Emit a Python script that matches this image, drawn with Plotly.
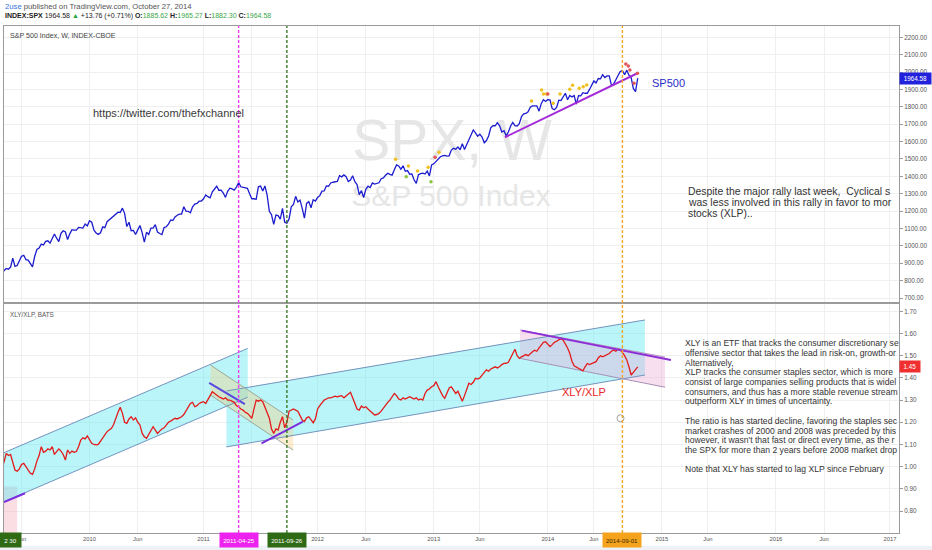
import pandas as pd
import plotly.graph_objects as go

# ---------------- data ----------------
spx_2009 = [843, 857, 870, 866, 878, 929, 882, 887, 919, 940, 946, 921, 918, 896, 879, 940, 979, 987,
            1010, 1005, 1026, 1029, 1016, 1042, 1068, 1044, 1025, 1072, 1087, 1080, 1036, 1069, 1093,
            1091, 1091, 1106, 1106, 1102, 1126, 1115]
spx_2010 = [1145, 1136, 1091, 1074, 1066, 1075, 1109, 1105, 1139, 1150, 1160, 1167, 1178, 1194, 1192,
            1217, 1187, 1111, 1136, 1087, 1089, 1065, 1092, 1117, 1076, 1022, 1078, 1065, 1102, 1102,
            1122, 1079, 1071, 1065, 1105, 1110, 1125, 1149, 1146, 1166, 1176, 1183, 1183, 1225, 1200,
            1199, 1190, 1225, 1240, 1244, 1257, 1258]
spx_2011 = [1271, 1293, 1283, 1276, 1311, 1329, 1343, 1320, 1321, 1304, 1279, 1314, 1332, 1328, 1320,
            1338, 1364, 1340, 1338, 1333, 1331, 1300, 1271, 1271, 1268, 1340, 1344, 1316, 1345, 1292,
            1199, 1179, 1124, 1177, 1174, 1154, 1216, 1136, 1131, 1155, 1225, 1238, 1285, 1253, 1263,
            1216, 1159, 1244, 1255, 1219, 1265, 1258]
spx_2012 = [1278, 1289, 1315, 1316, 1345, 1343, 1362, 1366, 1370, 1371, 1404, 1397, 1408, 1398, 1370,
            1379, 1403, 1369, 1353, 1295, 1318, 1278, 1325, 1343, 1335, 1362, 1355, 1357, 1363, 1386,
            1391, 1406, 1418, 1411, 1407, 1438, 1466, 1460, 1441, 1461, 1429, 1433, 1412, 1414, 1380,
            1360, 1409, 1416, 1418, 1413, 1430, 1402, 1466]
spx_2013 = [1472, 1486, 1503, 1513, 1518, 1520, 1516, 1518, 1551, 1561, 1556, 1569, 1553, 1588, 1555,
            1582, 1614, 1633, 1667, 1650, 1631, 1643, 1626, 1593, 1606, 1632, 1680, 1692, 1691, 1709,
            1691, 1655, 1663, 1633, 1655, 1688, 1710, 1692, 1690, 1703, 1744, 1760, 1762, 1771, 1798,
            1805, 1806, 1805, 1775, 1818, 1841, 1831]
spx_2014 = [1842, 1839, 1790, 1783, 1797, 1838, 1836, 1859, 1878, 1841, 1866, 1857, 1865, 1816, 1864,
            1863, 1881, 1878, 1878, 1900, 1924, 1949, 1937, 1963, 1961, 1985, 1968, 1978, 1978, 1925,
            1931, 1955, 1988, 2003, 2008, 1985, 2011, 1982, 1968, 1906, 1887, 1964.58]
spx = spx_2009 + spx_2010 + spx_2011 + spx_2012 + spx_2013 + spx_2014

xly_xlp = [
    1.00, 1.02, 1.06, 1.05, 1.055, 1.02, 0.985, 0.98, 0.99, 1.01,
    1.015, 1.00, 0.985, 0.97, 0.965, 0.99, 1.025, 1.05, 1.09, 1.065,
    1.07, 1.08, 1.075, 1.09, 1.055, 1.07, 1.08, 1.07, 1.055, 1.03,
    1.075, 1.06, 1.07, 1.065, 1.068, 1.09, 1.12, 1.13, 1.125, 1.138,
    1.12, 1.105, 1.10, 1.098, 1.10, 1.115, 1.13, 1.14, 1.158, 1.165,
    1.173, 1.19, 1.22, 1.245, 1.268, 1.24, 1.20, 1.195, 1.215, 1.225,
    1.21, 1.22, 1.20, 1.188, 1.15, 1.135, 1.128, 1.145, 1.165, 1.18,
    1.165, 1.15, 1.16, 1.17, 1.175, 1.19, 1.20, 1.205, 1.21, 1.218,
    1.215, 1.22, 1.225, 1.235, 1.25, 1.265, 1.285, 1.29, 1.27, 1.275,
    1.285, 1.29, 1.293, 1.285, 1.30, 1.32, 1.338, 1.33, 1.32, 1.315,
    1.31, 1.305, 1.31, 1.30, 1.30, 1.295, 1.29, 1.275, 1.27, 1.26,
    1.255, 1.245, 1.24, 1.23, 1.218, 1.26, 1.30, 1.295, 1.30, 1.293,
    1.27, 1.245, 1.218, 1.17, 1.15, 1.17, 1.165, 1.20, 1.225, 1.175,
    1.20, 1.25, 1.255, 1.26, 1.255, 1.25, 1.23, 1.21, 1.203, 1.22,
    1.225, 1.21, 1.198, 1.215, 1.26, 1.275, 1.29, 1.30, 1.305, 1.31,
    1.31, 1.315, 1.318, 1.315, 1.318, 1.32, 1.31, 1.318, 1.33, 1.335,
    1.31, 1.28, 1.26, 1.255, 1.273, 1.265, 1.27, 1.26, 1.25, 1.24,
    1.233, 1.235, 1.24, 1.25, 1.265, 1.28, 1.29, 1.30, 1.315, 1.33,
    1.32, 1.305, 1.30, 1.31, 1.305, 1.31, 1.315, 1.31, 1.305, 1.31,
    1.30, 1.305, 1.30, 1.33, 1.345, 1.35, 1.36, 1.365, 1.383, 1.36,
    1.34, 1.32, 1.308, 1.33, 1.355, 1.36, 1.345, 1.33, 1.34, 1.315,
    1.295, 1.32, 1.35, 1.376, 1.37, 1.38, 1.398, 1.395, 1.40, 1.415,
    1.425, 1.436, 1.43, 1.44, 1.445, 1.45, 1.445, 1.45, 1.46, 1.465,
    1.466, 1.47, 1.49, 1.51, 1.529, 1.50, 1.488, 1.495, 1.50, 1.505,
    1.50, 1.51, 1.518, 1.525, 1.52, 1.535, 1.55, 1.56, 1.563, 1.55,
    1.541, 1.55, 1.56, 1.565, 1.57, 1.578, 1.57, 1.555, 1.535, 1.511,
    1.475, 1.455, 1.45, 1.445, 1.44, 1.432, 1.45, 1.465, 1.46, 1.465,
    1.47, 1.473, 1.49, 1.50, 1.495, 1.50, 1.505, 1.51, 1.52, 1.526,
    1.52, 1.529, 1.525, 1.515, 1.50, 1.481, 1.45, 1.413, 1.425, 1.44, 1.45,
]

dates = pd.date_range("2009-03-30", periods=len(spx), freq="W-MON")
ratio_dates = dates[:len(xly_xlp)]

# signal dots on SPX
yellow_dates = ["2012-09-07", "2012-10-18", "2012-11-16", "2012-12-20", "2013-01-24", "2013-11-15",
                "2013-12-17", "2013-12-23", "2014-01-02", "2014-01-23", "2014-02-14", "2014-03-17",
                "2014-03-26", "2014-04-16", "2014-04-29", "2014-05-10"]
yellow_vals = [1498, 1459, 1431, 1452, 1538, 1833, 1897, 1874, 1874, 1820, 1874, 1901, 1924, 1907, 1916, 1925]
red_dates = ["2013-01-11", "2014-01-06", "2014-09-12", "2014-09-20", "2014-09-25", "2014-10-08", "2014-10-19"]
red_vals = [1510, 1874, 2046, 2035, 2012, 1935, 1993]
green_dates = ["2012-10-11", "2012-12-29"]
green_vals = [1398, 1369]

# drawings
spx_trend_dates = ["2013-08-22", "2014-10-19"]
spx_trend_vals = [1625, 1993]

left_ch_dates = ["2009-04-06", "2011-05-24"]
left_ch_upper = [1.063, 1.533]
left_ch_lower = [0.842, 1.313]
mid_ch_dates = ["2011-03-17", "2014-11-12"]
mid_ch_upper = [1.341, 1.661]
mid_ch_lower = [1.089, 1.413]
desc_ch_dates = ["2011-01-25", "2011-10-16"]
desc_ch_upper = [1.458, 1.210]
desc_ch_lower = [1.323, 1.075]
top_ch_dates = ["2013-10-09", "2015-01-15"]
top_ch_upper = [1.616, 1.494]
top_ch_lower = [1.488, 1.358]
pink_box_dates = ["2009-03-30", "2009-05-18"]
pink_box_vals = [0.60, 0.91]

seg_a_dates, seg_a_vals = ["2011-01-21", "2011-05-15"], [1.378, 1.282]
seg_b_dates, seg_b_vals = ["2011-07-07", "2011-11-16"], [1.105, 1.203]
seg_c_dates, seg_c_vals = ["2009-04-06", "2009-06-12"], [0.840, 0.880]
seg_d_dates, seg_d_vals = ["2013-10-15", "2015-02-03"], [1.613, 1.481]
cursor_dates, cursor_vals = ["2014-08-26"], [1.218]

vline_dates = ["2011-04-25", "2011-09-26", "2014-09-01"]
vline_colors = ["#f03cf0", "#3d7a26", "#f5a623"]
vline_label_bg = ["#ee22ee", "#2f6a14", "#f5a21c"]
vline_label_fg = ["white", "white", "#3a2a00"]

x_tickvals = ["2009-06-01", "2010-01-04", "2010-06-07", "2011-01-03", "2011-06-06", "2012-01-02",
              "2012-06-04", "2013-01-07", "2013-06-03", "2014-01-06", "2014-06-02", "2015-01-05",
              "2015-06-01", "2016-01-04", "2016-06-06", "2017-01-02"]
x_ticktext = ["Jun", "2010", "Jun", "2011", "", "2012", "Jun", "2013", "Jun", "2014", "Jun",
              "2015", "Jun", "2016", "Jun", "2017"]
spx_ticks = list(range(700, 2201, 100))
ratio_ticks = [0.8, 0.9, 1.0, 1.1, 1.2, 1.3, 1.4, 1.5, 1.6, 1.7]

x_range = ["2009-04-06", "2017-01-31"]
spx_range = [677, 2265]
ratio_range = [0.701, 1.733]

header_1 = "<span style='color:#3476dc'>2use</span> published on TradingView.com, October 27, 2014"
header_2 = ("<b>INDEX:SPX</b> 1964.58 <span style='color:#26a23a'>▲</span> +13.76 (+0.71%) "
            "<b>O:</b><span style='color:#3aa64a'>1885.62</span> <b>H:</b><span style='color:#3aa64a'>1965.27</span> "
            "<b>L:</b><span style='color:#3aa64a'>1882.30</span> <b>C:</b><span style='color:#3aa64a'>1964.58</span>")

top_note = ["Despite the major rally last week,\u00a0 Cyclical s",
            "was less involved in this rally in favor to mor",
            "stocks (XLP).."]
bottom_note = ["XLY is an ETF that tracks the consumer discretionary se",
               "offensive sector that takes the lead in risk-on, growth-or",
               "Alternatively,",
               "XLP tracks the consumer staples sector, which is more",
               "consist of large companies selling products that is widel",
               "consumers, and thus has a more stable revenue stream",
               "outperform XLY in times of uncertainty.",
               "",
               "The ratio is has started decline, favoring the staples sec",
               "market crashes of 2000 and 2008 was preceded by this",
               "however, it wasn't that fast or direct every time, as the r",
               "the SPX for more than 2 years before 2008 market drop",
               "",
               "Note that XLY has started to lag XLP since February"]

# ---------------- figure ----------------
FONT = "Liberation Sans, Arial, sans-serif"
L, R, T, B = 4, 899, 26, 533
W, H = 932, 550

def px(X):
    return (X - L) / (R - L)

def py(Y):
    return (B - Y) / (B - T)

x0 = pd.Timestamp(x_range[0]); x1 = pd.Timestamp(x_range[1])

def xfrac(f):
    return x0 + (x1 - x0) * f

def yfrac(rng, f):
    return rng[0] + (rng[1] - rng[0]) * f

fig = go.Figure()

# watermark (under everything in top pane)
fig.add_trace(go.Scatter(x=[xfrac(0.5006)], y=[yfrac(spx_range, 0.565)], mode="text", text=["SPX, W"],
                         textfont=dict(size=57, color="#e6e6e6", family=FONT), hoverinfo="skip",
                         xaxis="x", yaxis="y"))
fig.add_trace(go.Scatter(x=[xfrac(0.4994)], y=[yfrac(spx_range, 0.375)], mode="text", text=["S&P 500 Index"],
                         textfont=dict(size=30, color="#e6e6e6", family=FONT), hoverinfo="skip",
                         xaxis="x", yaxis="y"))

def poly(d, up, lo):
    return [d[0], d[1], d[1], d[0], d[0]], [up[0], up[1], lo[1], lo[0], up[0]]

def add_fill(d, up, lo, color):
    xs, ys = poly(d, up, lo)
    fig.add_trace(go.Scatter(x=xs, y=ys, mode="lines", fill="toself", fillcolor=color,
                             line=dict(width=0), hoverinfo="skip", xaxis="x2", yaxis="y2"))

def add_line(d, v, color, width=1, axis=("x2", "y2")):
    fig.add_trace(go.Scatter(x=d, y=v, mode="lines", line=dict(color=color, width=width),
                             hoverinfo="skip", xaxis=axis[0], yaxis=axis[1]))

# fills in the ratio pane
add_fill(pink_box_dates, [pink_box_vals[1]] * 2, [pink_box_vals[0]] * 2, "rgba(245,175,190,0.42)")
add_fill(left_ch_dates, left_ch_upper, left_ch_lower, "rgba(102,232,242,0.45)")
add_fill(mid_ch_dates, mid_ch_upper, mid_ch_lower, "rgba(102,232,242,0.45)")
add_fill(desc_ch_dates, desc_ch_upper, desc_ch_lower, "rgba(250,205,130,0.38)")
add_fill(top_ch_dates, top_ch_upper, top_ch_lower, "rgba(235,170,215,0.38)")

chan_col = "#7393bd"
for d, u, lo in [(left_ch_dates, left_ch_upper, left_ch_lower), (mid_ch_dates, mid_ch_upper, mid_ch_lower)]:
    add_line(d, u, chan_col, 1)
    add_line(d, lo, chan_col, 1)
add_line(desc_ch_dates, desc_ch_upper, "#9aa89a", 1)
add_line(desc_ch_dates, desc_ch_lower, "#9aa89a", 1)
add_line(top_ch_dates, top_ch_upper, "#b59ac0", 1)
add_line(top_ch_dates, top_ch_lower, "#a690b8", 1)

# price lines
fig.add_trace(go.Scatter(x=dates, y=spx, mode="lines", line=dict(color="#1c1ccf", width=1.3),
                         xaxis="x", yaxis="y", name="SPX"))
fig.add_trace(go.Scatter(x=ratio_dates, y=xly_xlp, mode="lines", line=dict(color="#e31b1b", width=1.3),
                         xaxis="x2", yaxis="y2", name="XLY/XLP"))

# trend lines
add_line(spx_trend_dates, spx_trend_vals, "#a32ad8", 2, ("x", "y"))
add_line(seg_a_dates, seg_a_vals, "#5a48e0", 2)
add_line(seg_b_dates, seg_b_vals, "#7a2ee0", 2)
add_line(seg_c_dates, seg_c_vals, "#7a2ee0", 2)
add_line(seg_d_dates, seg_d_vals, "#8e2fd6", 2)

# signal dots
for d, v, c in [(yellow_dates, yellow_vals, "#f2c01e"), (red_dates, red_vals, "#e0565a"),
                (green_dates, green_vals, "#8cc63f")]:
    fig.add_trace(go.Scatter(x=d, y=v, mode="markers", marker=dict(size=3.5, color=c),
                             hoverinfo="skip", xaxis="x", yaxis="y"))
fig.add_trace(go.Scatter(x=cursor_dates, y=cursor_vals, mode="markers",
                         marker=dict(size=7, color="white", line=dict(color="#a0a0a0", width=1)),
                         hoverinfo="skip", xaxis="x2", yaxis="y2"))

grid = "#efefef"
border = "#9b9b9b"
axis_common = dict(showgrid=True, gridcolor=grid, gridwidth=1, zeroline=False, showline=True,
                   linecolor=border, linewidth=1, mirror=True)
fig.update_layout(
    width=W, height=H, margin=dict(l=L, r=W - R, t=T, b=H - B),
    paper_bgcolor="white", plot_bgcolor="white", showlegend=False,
    font=dict(family=FONT, color="#444"),
    xaxis=dict(domain=[0, 1], anchor="y", type="date", range=x_range, tickvals=x_tickvals,
               showticklabels=False, ticks="", **axis_common),
    xaxis2=dict(domain=[0, 1], anchor="y2", type="date", range=x_range, matches="x",
                tickvals=x_tickvals, ticktext=x_ticktext, ticks="",
                tickfont=dict(size=5.8, color="#555", family=FONT), **axis_common),
    yaxis=dict(domain=[py(302), 1], anchor="x", side="right", range=spx_range, tickvals=spx_ticks,
               tickformat=".2f", ticks="outside", ticklen=3, tickcolor=border,
               tickfont=dict(size=6.3, color="#555", family=FONT), **axis_common),
    yaxis2=dict(domain=[0, py(304)], anchor="x2", side="right", range=ratio_range, tickvals=ratio_ticks,
                tickformat=".2f", ticks="outside", ticklen=3, tickcolor=border,
                tickfont=dict(size=6.3, color="#555", family=FONT), **axis_common),
)

# vertical dashed date lines and their axis labels
for d, c, bg, fg in zip(vline_dates, vline_colors, vline_label_bg, vline_label_fg):
    fig.add_shape(type="line", xref="x", yref="paper", x0=d, x1=d, y0=0, y1=1,
                  line=dict(color=c, width=1.4, dash="3px,2px"))
    fig.add_annotation(x=d, xref="x2", y=py(539.5), yref="paper", text=d, showarrow=False,
                       bgcolor=bg, font=dict(size=6.2, color=fg, family=FONT),
                       width=36, height=12, xanchor="center", yanchor="middle")
fig.add_annotation(x=px(-1), xref="paper", y=py(539.5), yref="paper", text="2 30", showarrow=False,
                   bgcolor="#2f6a14", font=dict(size=6.2, color="white", family=FONT),
                   width=19, height=12, xanchor="left", yanchor="middle")

# bottom light strip
fig.add_shape(type="rect", xref="paper", yref="paper", x0=px(-5), x1=px(940), y0=py(546), y1=py(556),
              fillcolor="#eef1f6", line=dict(width=0), layer="below")

# last value labels
fig.add_annotation(x=1.0, xref="paper", y=spx[-1], yref="y", text=f"{spx[-1]:.2f}", showarrow=False,
                   bgcolor="#2222dd", font=dict(size=6.3, color="white", family=FONT),
                   width=29, height=9, xanchor="left", yanchor="middle")
fig.add_annotation(x=1.0, xref="paper", y=xly_xlp[-1], yref="y2", text=f"{xly_xlp[-1]:.2f}", showarrow=False,
                   bgcolor="#f03030", font=dict(size=6.3, color="white", family=FONT),
                   width=18, height=9, xanchor="left", yanchor="middle")

def ann(text, X, Y, size, color, xanchor="left"):
    fig.add_annotation(x=px(X), y=py(Y), xref="paper", yref="paper", text=text, showarrow=False,
                       xanchor=xanchor, yanchor="middle", font=dict(size=size, color=color, family=FONT))

ann(header_1, 3.3, 6.7, 7.7, "#555")
ann(header_2, 3.3, 15.7, 7, "#222")
ann("S&P 500 Index, W, INDEX-CBOE", 8.3, 35.7, 7.1, "#444")
ann("XLY/XLP, BATS", 8.3, 314, 6.3, "#555")
ann("https://twitter.com/thefxchannel", 90.7, 112.7, 11, "#3a3a3a")
ann("SP500", 650, 83.3, 11, "#2b2bc8")
ann("XLY/XLP", 560, 392.3, 11, "#e8262a")
for k, line in enumerate(top_note):
    ann(line, 686, 191.7 + 11 * k, 10.4, "#333")
for k, line in enumerate(bottom_note):
    if line:
        ann(line, 682.7, 343.3 + 9.69 * k, 8.6, "#333")

fig.write_html("out.html", config={"displayModeBar": False},
               post_script="document.body.style.margin='0';document.body.style.overflow='hidden';")
